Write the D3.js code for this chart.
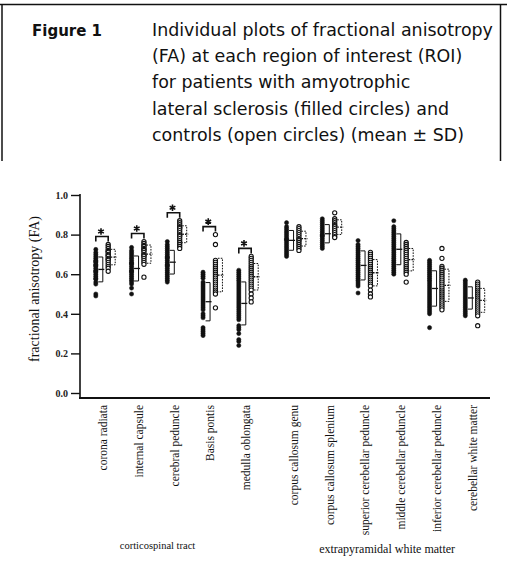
<!DOCTYPE html>
<html><head><meta charset="utf-8">
<script src="https://cdn.jsdelivr.net/npm/d3@7"></script>
<style>body{margin:0;background:#fff}svg{display:block}</style>
</head><body>
<script>
const categories = ["corona radiata","internal capsule","cerebral peduncle","Basis pontis","medulla oblongata",
  "corpus callosum genu","corpus callosum splenium","superior cerebellar peduncle","middle cerebellar peduncle",
  "inferior cerebellar peduncle","cerebellar white matter"];
const groups = ["corticospinal tract","corticospinal tract","corticospinal tract","corticospinal tract","corticospinal tract",
  "extrapyramidal white matter","extrapyramidal white matter","extrapyramidal white matter","extrapyramidal white matter",
  "extrapyramidal white matter","extrapyramidal white matter"];
const groupNames = ["corticospinal tract","extrapyramidal white matter"];
const significant = [true,true,true,true,true,false,false,false,false,false,false];
const yTicks = [0,0.2,0.4,0.6,0.8,1.0];
const yTickLabels = ["0.0","0.2","0.4","0.6","0.8","1.0"];
const titleLines = ["Individual plots of fractional anisotropy","(FA) at each region of interest (ROI)",
  "for patients with amyotrophic","lateral sclerosis (filled circles) and","controls (open circles) (mean \u00b1 SD)"];

const alsValues = [
  [0.725,0.71,0.70,0.69,0.68,0.67,0.665,0.66,0.65,0.645,0.64,0.63,0.62,0.615,0.61,0.60,0.59,0.58,0.575,0.56,0.55,0.50,0.49],
  [0.735,0.72,0.71,0.70,0.69,0.68,0.67,0.66,0.655,0.65,0.64,0.63,0.62,0.615,0.61,0.60,0.59,0.58,0.57,0.56,0.55,0.53,0.50],
  [0.765,0.75,0.74,0.73,0.72,0.71,0.70,0.69,0.685,0.68,0.67,0.66,0.65,0.645,0.64,0.63,0.62,0.61,0.60,0.59,0.58,0.57,0.56],
  [0.61,0.60,0.59,0.58,0.56,0.55,0.54,0.53,0.52,0.51,0.50,0.49,0.48,0.47,0.46,0.45,0.44,0.43,0.42,0.40,0.39,0.38,0.33,0.32,0.31,0.30,0.29],
  [0.62,0.61,0.60,0.59,0.58,0.57,0.56,0.55,0.54,0.53,0.52,0.51,0.50,0.49,0.48,0.47,0.46,0.45,0.44,0.43,0.42,0.41,0.40,0.39,0.38,0.37,0.34,0.33,0.32,0.30,0.27,0.26,0.24],
  [0.86,0.84,0.83,0.82,0.81,0.80,0.79,0.78,0.775,0.77,0.76,0.75,0.74,0.73,0.72,0.71,0.70,0.69],
  [0.88,0.87,0.86,0.85,0.84,0.83,0.82,0.81,0.80,0.795,0.79,0.78,0.77,0.76,0.75,0.74,0.73],
  [0.77,0.75,0.74,0.73,0.72,0.71,0.70,0.69,0.68,0.67,0.66,0.65,0.64,0.63,0.62,0.61,0.60,0.59,0.58,0.57,0.56,0.55,0.54,0.505],
  [0.87,0.84,0.83,0.82,0.81,0.80,0.79,0.78,0.77,0.76,0.75,0.74,0.73,0.72,0.71,0.70,0.69,0.68,0.67,0.66,0.65,0.64,0.63,0.62,0.61,0.60],
  [0.67,0.66,0.65,0.64,0.63,0.62,0.61,0.60,0.59,0.58,0.57,0.56,0.55,0.54,0.53,0.52,0.51,0.50,0.49,0.48,0.47,0.46,0.45,0.44,0.43,0.42,0.41,0.40,0.33],
  [0.57,0.56,0.55,0.54,0.53,0.52,0.51,0.50,0.49,0.48,0.47,0.46,0.45,0.44,0.43,0.42,0.41,0.40,0.39]
];
const controlValues = [
  [0.75,0.74,0.73,0.72,0.715,0.71,0.70,0.695,0.69,0.68,0.675,0.67,0.66,0.65,0.64,0.63,0.615],
  [0.765,0.755,0.745,0.74,0.73,0.725,0.72,0.71,0.70,0.695,0.69,0.68,0.67,0.66,0.65,0.585],
  [0.87,0.86,0.85,0.84,0.835,0.83,0.82,0.81,0.80,0.795,0.79,0.78,0.77,0.76,0.75,0.74,0.73],
  [0.80,0.75,0.67,0.66,0.65,0.64,0.63,0.62,0.61,0.60,0.59,0.58,0.57,0.56,0.55,0.54,0.53,0.52,0.51,0.50,0.43],
  [0.69,0.68,0.67,0.66,0.65,0.64,0.63,0.62,0.61,0.60,0.59,0.58,0.57,0.56,0.55,0.54,0.53,0.52,0.50,0.48,0.46],
  [0.84,0.83,0.82,0.81,0.80,0.79,0.78,0.775,0.77,0.76,0.75,0.74,0.73,0.72],
  [0.91,0.88,0.87,0.86,0.85,0.845,0.84,0.83,0.82,0.81,0.80,0.79,0.785],
  [0.71,0.70,0.69,0.68,0.67,0.66,0.65,0.64,0.63,0.62,0.61,0.60,0.59,0.58,0.57,0.56,0.55,0.54,0.52,0.50,0.485],
  [0.76,0.75,0.74,0.73,0.72,0.71,0.70,0.69,0.68,0.67,0.66,0.65,0.64,0.63,0.62,0.61,0.60,0.56],
  [0.73,0.68,0.64,0.63,0.62,0.61,0.60,0.59,0.58,0.57,0.56,0.55,0.54,0.53,0.52,0.51,0.50,0.49,0.48,0.47,0.46,0.45,0.44,0.43,0.42],
  [0.56,0.55,0.54,0.53,0.52,0.51,0.50,0.49,0.48,0.47,0.46,0.45,0.44,0.43,0.42,0.41,0.40,0.39,0.34]
];

const W = 507, H = 562;
const svg = d3.select("body").append("svg").attr("width", W).attr("height", H);

// Title box
const box = svg.append("g").attr("stroke", "#111").attr("stroke-width", 1.5).attr("fill", "none");
box.append("line").attr("x1", 0).attr("x2", W).attr("y1", 4.5).attr("y2", 4.5);
box.append("line").attr("x1", 2).attr("x2", 2).attr("y1", 4).attr("y2", 161);
box.append("line").attr("x1", 500.5).attr("x2", 500.5).attr("y1", 4).attr("y2", 161);

const tf = "'DejaVu Sans', 'Noto Sans', sans-serif";
svg.append("text").attr("x", 32).attr("y", 36).attr("font-family", tf).attr("font-weight", "bold")
  .attr("font-size", 15).attr("fill", "#111").text("Figure 1");
const tl = svg.append("g").selectAll("text").data(titleLines).join("text")
  .attr("x", 152).attr("y", (d, i) => 36 + i * 26.2)
  .attr("font-family", tf).attr("font-size", 15.5).attr("fill", "#111").text(d => d);
// fit first line width to the reference's measure (341px)
const w0 = tl.nodes()[0].getComputedTextLength();
tl.attr("font-size", 15.5 * 341 / w0);

// Scales
const y = d3.scaleLinear().domain([0, 1]).range([393, 195]);
const xp = d3.scalePoint().domain(categories).range([102, 459.5]);
const gapScale = d3.scaleOrdinal().domain(groupNames).range([0, 12]);
const xc = (c, i) => xp(c) + gapScale(groups[i]);
const off = 6.2;

const serif = "'Liberation Serif', 'DejaVu Serif', serif";

// Y axis
const ax = svg.append("g").attr("transform", "translate(80,0)");
ax.call(d3.axisLeft(y).tickValues(yTicks).tickSize(9).tickFormat((d, i) => yTickLabels[i]));
ax.select(".domain").remove();
ax.selectAll(".tick line").attr("stroke", "#111").attr("stroke-width", 1.4);
ax.selectAll(".tick text").attr("font-family", serif).attr("font-size", 10).attr("font-weight", "bold").attr("fill", "#222").attr("x", -12);
svg.append("line").attr("x1", 80).attr("x2", 80).attr("y1", 194).attr("y2", 399).attr("stroke", "#111").attr("stroke-width", 1.6);
svg.append("line").attr("x1", 79).attr("x2", 490).attr("y1", 398).attr("y2", 398).attr("stroke", "#111").attr("stroke-width", 2);

svg.append("text").attr("transform", "translate(39,289) rotate(-90)").attr("text-anchor", "middle")
  .attr("font-family", serif).attr("font-size", 14).attr("fill", "#111").text("fractional anisotropy (FA)");

// X labels
svg.append("g").selectAll("text").data(categories).join("text")
  .attr("transform", (d, i) => `translate(${xc(d, i) + 1},405) rotate(-90)`)
  .attr("text-anchor", "end").attr("dy", "0.35em")
  .attr("font-family", serif).attr("font-size", 11.5).attr("fill", "#111").text(d => d);

// group labels
const groupCenters = groupNames.map(g => {
  const xs = categories.filter((c, i) => groups[i] === g).map(c => xc(c, categories.indexOf(c)));
  return (d3.min(xs) + d3.max(xs)) / 2;
});
svg.append("g").selectAll("text").data(groupNames).join("text")
  .attr("x", (d, i) => groupCenters[i] + (i === 0 ? -16 : 5)).attr("y", (d, i) => i === 0 ? 549 : 553)
  .attr("text-anchor", "middle").attr("font-family", serif).attr("font-size", (d, i) => i === 0 ? 10.5 : 12)
  .attr("fill", "#111").text(d => d);

// Data columns
const plot = svg.append("g");
const star = d3.symbol(d3.symbolAsterisk, 30);
categories.forEach((c, i) => {
  const cx = xc(c, i);
  const cols = [
    {vals: alsValues[i], x: cx - off, filled: true},
    {vals: controlValues[i], x: cx + off, filled: false}
  ];
  cols.forEach(col => {
    plot.append("g").selectAll("circle").data(col.vals).join("circle")
      .attr("cx", col.x).attr("cy", d => y(d)).attr("r", 2.1)
      .attr("fill", col.filled ? "#111" : "#fff").attr("stroke", "#111").attr("stroke-width", col.filled ? 0.5 : 1.1);
    const m = d3.mean(col.vals), s = d3.deviation(col.vals);
    const bx = col.x + 2.5, bw = 4.5;
    const br = plot.append("g").attr("fill", "none").attr("stroke", "#111").attr("stroke-width", 1)
      .attr("stroke-dasharray", col.filled ? null : "1.6,1.2");
    br.append("path").attr("d", `M${bx},${y(m + s)}H${bx + bw}V${y(m - s)}H${bx}`);
    br.append("line").attr("x1", bx).attr("x2", bx + bw + 1.5).attr("y1", y(m)).attr("y2", y(m)).attr("stroke-dasharray", null).attr("stroke-width", 1.3);
  });
  if (significant[i]) {
    const top = d3.max(alsValues[i].concat(controlValues[i]));
    const by = y(top) - 8;
    plot.append("path").attr("d", `M${cx - off},${by + 5}V${by}H${cx + off}V${by + 5}`)
      .attr("fill", "none").attr("stroke", "#111").attr("stroke-width", 1.6);
    plot.append("path").attr("d", star).attr("transform", `translate(${cx - 1},${by - 5})`)
      .attr("fill", "none").attr("stroke", "#111").attr("stroke-width", 1.6);
  }
});
</script>
</body></html>
